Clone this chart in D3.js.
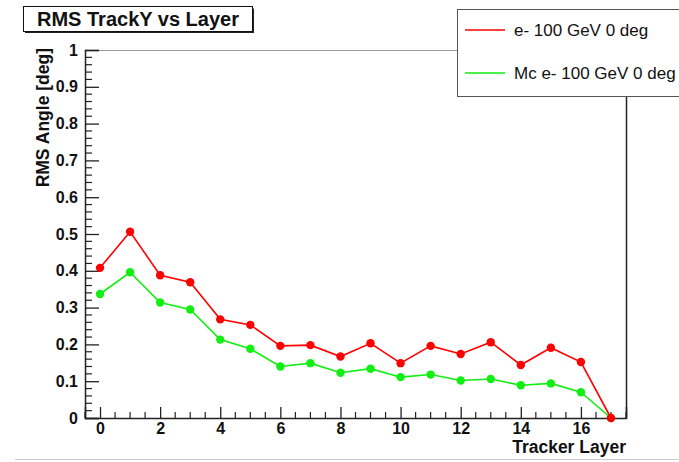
<!DOCTYPE html>
<html><head><meta charset="utf-8">
<script src="https://cdn.jsdelivr.net/npm/d3@7"></script>
<style>html,body{margin:0;padding:0;background:#fff;}svg{display:block;font-family:"Liberation Sans",Arial,sans-serif;}</style>
</head><body>
<script>
const layers = [0,1,2,3,4,5,6,7,8,9,10,11,12,13,14,15,16,17];
const dataReco = [0.408,0.506,0.388,0.369,0.268,0.253,0.196,0.198,0.167,0.203,0.149,0.196,0.174,0.206,0.144,0.191,0.152,0.0];
const dataMc   = [0.337,0.396,0.314,0.295,0.213,0.188,0.140,0.149,0.123,0.134,0.111,0.118,0.102,0.106,0.089,0.094,0.070,0.0];
const seriesNames = ["e- 100 GeV 0 deg","Mc e- 100 GeV 0 deg"];
const seriesColors = ["#ff0000","#11ee11"];
const xTickLabels = [0,2,4,6,8,10,12,14,16];
const yTickLabels = [0,0.1,0.2,0.3,0.4,0.5,0.6,0.7,0.8,0.9,1];

const W=679,H=462;
const svg=d3.select("body").append("svg").attr("width",W).attr("height",H);
const L=85,R=626,T=50,B=418;
const x=d3.scaleLinear().domain([-0.5,17.5]).range([L,R]);
const y=d3.scaleLinear().domain([0,1]).range([B,T]);

// bottom separator line
svg.append("line").attr("x1",15).attr("x2",W).attr("y1",459.5).attr("y2",459.5).attr("stroke","#ccc").attr("stroke-width",1);

// frame
svg.append("line").attr("x1",L).attr("x2",R).attr("y1",T+0.5).attr("y2",T+0.5).attr("stroke","#999").attr("stroke-width",1);
svg.append("line").attr("x1",R+0.5).attr("x2",R+0.5).attr("y1",T).attr("y2",B).attr("stroke","#222").attr("stroke-width",1.5);

// y axis
const yAxis=d3.axisLeft(y).tickValues(yTickLabels).tickFormat(d=>d===0?"0":d===1?"1":d3.format(".1f")(d)).tickSize(-14).tickPadding(7);
const gy=svg.append("g").attr("transform",`translate(${L},0)`).call(yAxis);
gy.select(".domain").attr("stroke","#222").attr("stroke-width",1.5);
gy.selectAll(".tick line").attr("stroke","#222").attr("stroke-width",1.3);
gy.selectAll(".tick text").attr("font-size",16).attr("font-weight","bold").attr("fill","#111");
const yMinor=d3.range(0,1.0001,0.02).filter(v=>Math.abs(v*10-Math.round(v*10))>1e-6);
svg.append("g").selectAll("line").data(yMinor).join("line")
 .attr("x1",L).attr("x2",L+7).attr("y1",d=>y(d)).attr("y2",d=>y(d)).attr("stroke","#222").attr("stroke-width",1.2);

// x axis
const xAxis=d3.axisBottom(x).tickValues(xTickLabels).tickFormat(d3.format("d")).tickSize(-11).tickPadding(5);
const gx=svg.append("g").attr("transform",`translate(0,${B})`).call(xAxis);
gx.select(".domain").attr("stroke","#222").attr("stroke-width",1.5);
gx.selectAll(".tick line").attr("stroke","#222").attr("stroke-width",1.3);
gx.selectAll(".tick text").attr("font-size",16).attr("font-weight","bold").attr("fill","#111");
const xMinor=d3.range(-0.5,17.51,0.5).filter(v=>!(Number.isInteger(v)&&v%2===0));
svg.append("g").selectAll("line").data(xMinor).join("line")
 .attr("x1",d=>x(d)).attr("x2",d=>x(d)).attr("y1",B).attr("y2",B-6).attr("stroke","#222").attr("stroke-width",1.2);

// axis titles
svg.append("text").attr("transform",`translate(49,${T-2}) rotate(-90)`).attr("text-anchor","end")
 .attr("font-size",17.5).attr("font-weight","bold").attr("fill","#111").text("RMS Angle [deg]");
svg.append("text").attr("x",R).attr("y",453).attr("text-anchor","end")
 .attr("font-size",17.5).attr("font-weight","bold").attr("fill","#111").text("Tracker Layer");

// series
const line=d3.line().x((d,i)=>x(layers[i])).y(d=>y(d));
[dataMc,dataReco].forEach((data,k)=>{
  const c = k===0?seriesColors[1]:seriesColors[0];
  svg.append("path").datum(data).attr("d",line).attr("fill","none").attr("stroke",c).attr("stroke-width",1.6);
  svg.append("g").selectAll("circle").data(data).join("circle")
    .attr("cx",(d,i)=>x(layers[i])).attr("cy",d=>y(d)).attr("r",4.2).attr("fill",c);
});

// title box
svg.append("rect").attr("x",25).attr("y",8.5).attr("width",229).attr("height",24.5).attr("fill","#222");
svg.append("rect").attr("x",23.5).attr("y",6.5).attr("width",229).attr("height",25).attr("fill","#fff").attr("stroke","#111").attr("stroke-width",1);
svg.append("text").attr("x",138).attr("y",26).attr("text-anchor","middle").attr("font-size",20).attr("font-weight","bold").attr("fill","#111").text("RMS TrackY vs Layer");

// legend
svg.append("rect").attr("x",457.5).attr("y",9.5).attr("width",240).attr("height",87).attr("fill","#fff").attr("stroke","#555").attr("stroke-width",1);
seriesNames.forEach((n,i)=>{
  const yy= i===0?30:73;
  svg.append("line").attr("x1",465).attr("x2",505).attr("y1",yy).attr("y2",yy).attr("stroke",seriesColors[i]).attr("stroke-width",1.5);
  svg.append("text").attr("x",514).attr("y",yy+6).attr("font-size",17).attr("fill","#111").text(n);
});
</script>
</body></html>
